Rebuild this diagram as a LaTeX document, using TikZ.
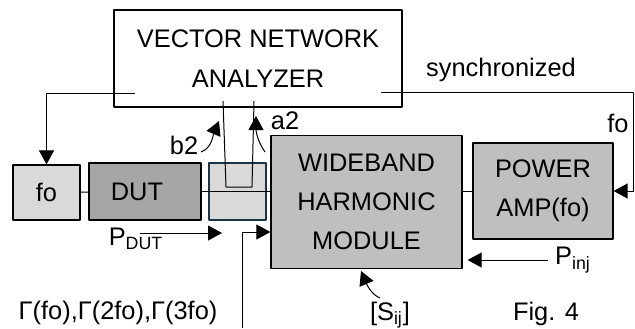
\documentclass[tikz,border=0pt]{standalone}
\usepackage{fontspec}
\setmainfont{Liberation Sans}
\usetikzlibrary{arrows.meta}
\definecolor{grisclair}{HTML}{D9D9D9}
\definecolor{grismoyen}{HTML}{BFBFBF}
\definecolor{grisfonce}{HTML}{A6A6A6}
\definecolor{bordcoupleur}{HTML}{1B3443}
\tikzset{bloc/.style={draw, line width=.6pt, inner sep=0pt, align=center},
	fleche/.style={-{Triangle[length=7pt,width=7.5pt]}}}
\begin{document}
\begin{tikzpicture}[x=.5pt,y=-.5pt,font=\fontsize{12.7}{19.5}\selectfont, line join=round, line width=.5pt]
	\useasboundingbox (0,0) rectangle (635,328);
	%%Blocs
	\node[bloc, fill=white, minimum width=144pt, minimum height=48.5pt] (vna) at (258,58.5) {VECTOR NETWORK\\[.5pt]ANALYZER};
	\node[bloc, fill=grisclair, minimum width=33.5pt, minimum height=27.5pt] (fo) at (46.5,192.5) {fo};
	\node[bloc, fill=grisfonce, minimum width=56pt, minimum height=28.5pt] (dut) at (145,191.5) {DUT\hspace{8pt}};
	\node[bloc, fill=grisclair, draw=bordcoupleur, line width=1pt, minimum width=28.5pt, minimum height=28.5pt] (cpl) at (237.5,191.5) {};
	\node[bloc, fill=grismoyen, minimum width=95.5pt, minimum height=66.5pt] (whm) at (366.5,202) {WIDEBAND\\HARMONIC\\MODULE};
	\node[bloc, fill=grismoyen, minimum width=70pt, minimum height=48pt] (pa) at (543,191) {POWER\\AMP(fo)};
	%%Liaisons
	\draw (fo) -- (dut);
	\draw (dut.east) -- (dut.east -| whm.west);
	\draw (whm.east |- pa.west) -- (pa.west);
	\draw (223,101) -- (226,187) -- (252,187) -- (254,101);
	\coordinate (vnag) at (135,93);
	\coordinate (vnad) at (381,92);
	\coordinate (coin) at (633,92);
	\draw[fleche] (vnag) -| (fo.north);
	\draw[fleche] (vnad) -- (coin) |- (pa.east);
	\node (sync) at (501,70) {synchronized};
	\node (fosync) at (618,123) {fo};
	%%Ondes
	\draw[fleche] (201,152) .. controls (212,148) and (213,135) .. (219,121);
	\draw[fleche] (265,152) .. controls (258,142) and (256,132) .. (256,116);
	\node (b2) at (184,145) {b2};
	\node (a2) at (285,121) {a2};
	%%Puissances
	\node (pdut) at (136,239) {P\textsubscript{DUT}};
	\coordinate (pdutdeb) at (140,233);
	\coordinate (pdutfin) at (222,233);
	\draw[fleche] (pdutdeb) -- (pdutfin);
	\coordinate (gbas) at (242,328);
	\draw[fleche] (gbas) |- (whm.west |- 0,232);
	\node (pinj) at (573,260) {P\textsubscript{inj}};
	\draw[fleche, shorten >=2.5pt] (pinj.west) -- (whm.east |- pinj.west);
	\node (sij) at (390,315) {[S\textsubscript{ij}]};
	\draw[fleche] (380,298) .. controls (372,295) and (367,285) .. (361,271);
	\node (gamma) at (118,313) {Γ(fo),Γ(2fo),Γ(3fo)};
	\node (fig) at (546,314) {Fig. 4};
\end{tikzpicture}
\end{document}
